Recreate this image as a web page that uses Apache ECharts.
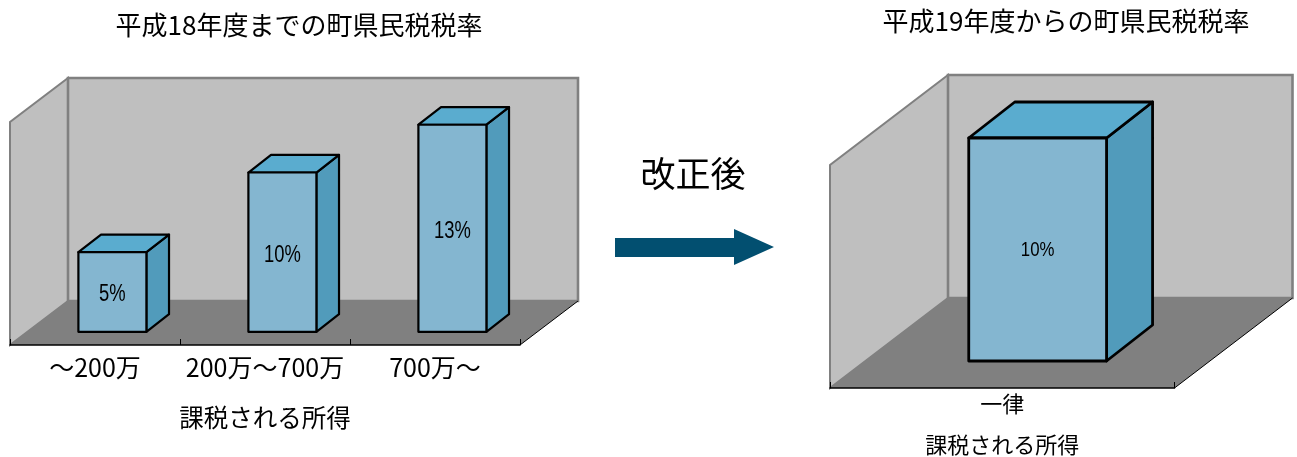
<!DOCTYPE html>
<html>
<head>
<meta charset="utf-8">
<style>html,body{margin:0;padding:0;background:#fff}#chart{width:1297px;height:457px}</style>
<script src="https://cdn.jsdelivr.net/npm/echarts@6/dist/echarts.min.js"></script>
</head>
<body>
<div id="chart"></div>
<script>
// Town and prefectural resident tax rates, before and after the reform
const beforeTitle = '平成18年度までの町県民税税率';
const afterTitle = '平成19年度からの町県民税税率';
const arrowLabel = '改正後';
const axisName = '課税される所得';
const beforeCategories = ['〜200万', '200万〜700万', '700万〜'];
const beforeRates = [5, 10, 13];
const afterCategories = ['一律'];
const afterRates = [10];

const FONT = '"Noto Sans CJK JP", sans-serif';
const LATIN = '"Liberation Sans", sans-serif';
const COLORS = {
  wall: '#bfbfbf', wallEdge: '#808080', floor: '#808080',
  front: '#84b6d0', top: '#5aaccf', side: '#519bbb', arrow: '#024f70'
};

// Oblique projection: the room recedes by (dx, -dy); boxes sit between 30% and 70% of that depth.
function roomRenderer(dx, dy) {
  return function (params) {
    const c = params.coordSys;
    const l = c.x, r = c.x + c.width, t = c.y, b = c.y + c.height;
    const edge = { stroke: COLORS.wallEdge, lineWidth: 2.6, fill: COLORS.wall };
    return {
      type: 'group',
      children: [
        { type: 'polygon', shape: { points: [[l, b], [l, t], [l + dx, t - dy], [l + dx, b - dy]] },
          style: { ...edge, lineWidth: 2 } },
        { type: 'rect', shape: { x: l + dx, y: t - dy, width: c.width, height: c.height }, style: edge },
        { type: 'polygon', shape: { points: [[l, b], [l + dx, b - dy], [r + dx, b - dy], [r, b]] },
          style: { fill: COLORS.floor } },
        { type: 'line', shape: { x1: r, y1: b, x2: r + dx, y2: b - dy },
          style: { stroke: '#000', lineWidth: 1 } }
      ]
    };
  };
}

// Rate labels are condensed horizontally around their anchor.
function boxRenderer(dx, dy, lineWidth, labelSize, labelDy) {
  return function (params, api) {
    const band = api.size([1, 0])[0];
    const w = band * 0.4;
    const i = api.value(0), v = api.value(1);
    const base = api.coord([i, 0]), head = api.coord([i, v]);
    const x0 = base[0] + dx * 0.3 - w / 2, x1 = x0 + w;
    const yb = base[1] - dy * 0.3, yt = head[1] - dy * 0.3;
    const ox = dx * 0.39, oy = dy * 0.4;
    const stroke = { stroke: '#000', lineWidth, lineJoin: 'round' };
    return {
      type: 'group',
      children: [
        { type: 'polygon', shape: { points: [[x1, yb], [x1, yt], [x1 + ox, yt - oy], [x1 + ox, yb - oy]] },
          style: { fill: COLORS.side, ...stroke } },
        { type: 'polygon', shape: { points: [[x0, yt], [x0 + ox, yt - oy], [x1 + ox, yt - oy], [x1, yt]] },
          style: { fill: COLORS.top, ...stroke } },
        { type: 'rect', shape: { x: x0, y: yt, width: w, height: yb - yt },
          style: { fill: COLORS.front, ...stroke } },
        { type: 'text', x: (x0 + x1) / 2, y: (yt + yb) / 2 + labelDy, scaleX: 0.8,
          style: { x: 0, y: 0, text: v + '%', fill: '#000',
            font: labelSize + 'px ' + LATIN, align: 'center', verticalAlign: 'middle' } }
      ]
    };
  };
}

function xAxis(gridIndex, data, labelSize, labelMargin, nameSize, nameGap) {
  return {
    gridIndex, type: 'category', data, z: 5,
    axisLine: { lineStyle: { color: '#000', width: 1.5 } },
    axisTick: { show: true, inside: true, length: 6, alignWithLabel: false, lineStyle: { color: '#000', width: 1 } },
    axisLabel: { color: '#000', fontFamily: FONT, fontSize: labelSize, margin: labelMargin, interval: 0 },
    name: axisName, nameLocation: 'middle', nameGap,
    nameTextStyle: { color: '#000', fontFamily: FONT, fontSize: nameSize }
  };
}

function titleAt(text, left, top, fontSize) {
  return { text, left, top, textAlign: 'center', padding: 0,
    textStyle: { color: '#000', fontFamily: FONT, fontSize, fontWeight: 'normal' } };
}

const chart = echarts.init(document.getElementById('chart'), null, { renderer: 'canvas' });
chart.setOption({
  animation: false,
  backgroundColor: '#fff',
  title: [
    titleAt(beforeTitle, 299, 12, 26),
    titleAt(afterTitle, 1066, 8, 26),
    titleAt(arrowLabel, 693, 156, 35)
  ],
  grid: [
    { left: 10, top: 122, width: 510, height: 223, outerBoundsMode: 'none' },
    { left: 830, top: 165, width: 344.5, height: 223, outerBoundsMode: 'none' }
  ],
  xAxis: [xAxis(0, beforeCategories, 25, 10, 24.5, 60), xAxis(1, afterCategories, 22, 5, 22, 46)],
  yAxis: [
    { gridIndex: 0, type: 'value', min: 0, max: 14, show: false },
    { gridIndex: 1, type: 'value', min: 0, max: 10, show: false }
  ],
  series: [
    { type: 'custom', xAxisIndex: 0, yAxisIndex: 0, z: 1, silent: true, data: [[0, 0]],
      clip: false, renderItem: roomRenderer(58, 44) },
    { type: 'custom', xAxisIndex: 1, yAxisIndex: 1, z: 1, silent: true, data: [[0, 0]],
      clip: false, renderItem: roomRenderer(118, 90) },
    { type: 'custom', xAxisIndex: 0, yAxisIndex: 0, z: 2, clip: false,
      data: beforeRates.map((v, i) => [i, v]), renderItem: boxRenderer(58, 44, 2.2, 23, 3) },
    { type: 'custom', xAxisIndex: 1, yAxisIndex: 1, z: 2, clip: false,
      data: afterRates.map((v, i) => [i, v]), renderItem: boxRenderer(118, 90, 2.8, 21, 1) }
  ],
  graphic: [{
    type: 'polygon',
    shape: { points: [[615, 238], [734, 238], [734, 229], [774, 247], [734, 265], [734, 257], [615, 257]] },
    style: { fill: COLORS.arrow }
  }]
});
</script>
</body>
</html>
